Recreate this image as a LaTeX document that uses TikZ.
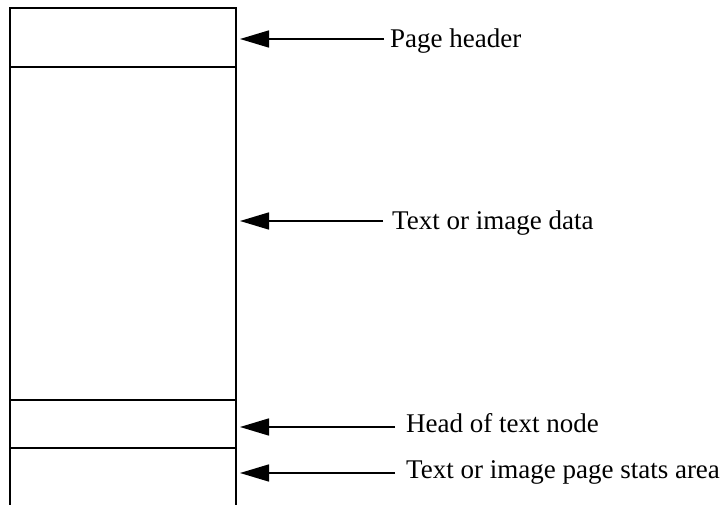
\documentclass[tikz,border=0pt]{standalone}
\usepackage{fontspec}
\setmainfont{Liberation Serif}
\usetikzlibrary{arrows.meta}
\begin{document}
\begin{tikzpicture}[x=1pt,y=-1pt,
  boxline/.style={line width=1.6pt},
  pointer/.style={line width=1.6pt,-{Triangle[length=29pt,width=17pt]}},
  lbl/.style={anchor=base west,inner sep=0pt,font=\fontsize{27}{32}\selectfont}]
\useasboundingbox (0,0) rectangle (723,505);
% box sections
\coordinate (tl) at (10,8);
\coordinate (tr) at (236,8);
\coordinate (bl) at (10,505);
\coordinate (br) at (236,505);
\draw[boxline] (bl) -- (tl) -- (tr) -- (br);
\coordinate (s1l) at (10,67);  \coordinate (s1r) at (236,67);
\coordinate (s2l) at (10,400); \coordinate (s2r) at (236,400);
\coordinate (s3l) at (10,448); \coordinate (s3r) at (236,448);
\draw[boxline] (s1l) -- (s1r);
\draw[boxline] (s2l) -- (s2r);
\draw[boxline] (s3l) -- (s3r);
% labels
\node[lbl] (l1) at (390,48) {Page header};
\node[lbl] (l2) at (392,230) {Text or image data};
\node[lbl] (l3) at (406,432) {Head of text node};
\node[lbl] (l4) at (406,478) {Text or image page stats area};
% arrow tips and tails
\coordinate (t1) at (240,39);  \coordinate (a1) at (384,39);
\coordinate (t2) at (240,221); \coordinate (a2) at (383,221);
\coordinate (t3) at (240,427); \coordinate (a3) at (395,427);
\coordinate (t4) at (240,473); \coordinate (a4) at (395,473);
\draw[pointer] (a1) -- (t1);
\draw[pointer] (a2) -- (t2);
\draw[pointer] (a3) -- (t3);
\draw[pointer] (a4) -- (t4);
\end{tikzpicture}
\end{document}
